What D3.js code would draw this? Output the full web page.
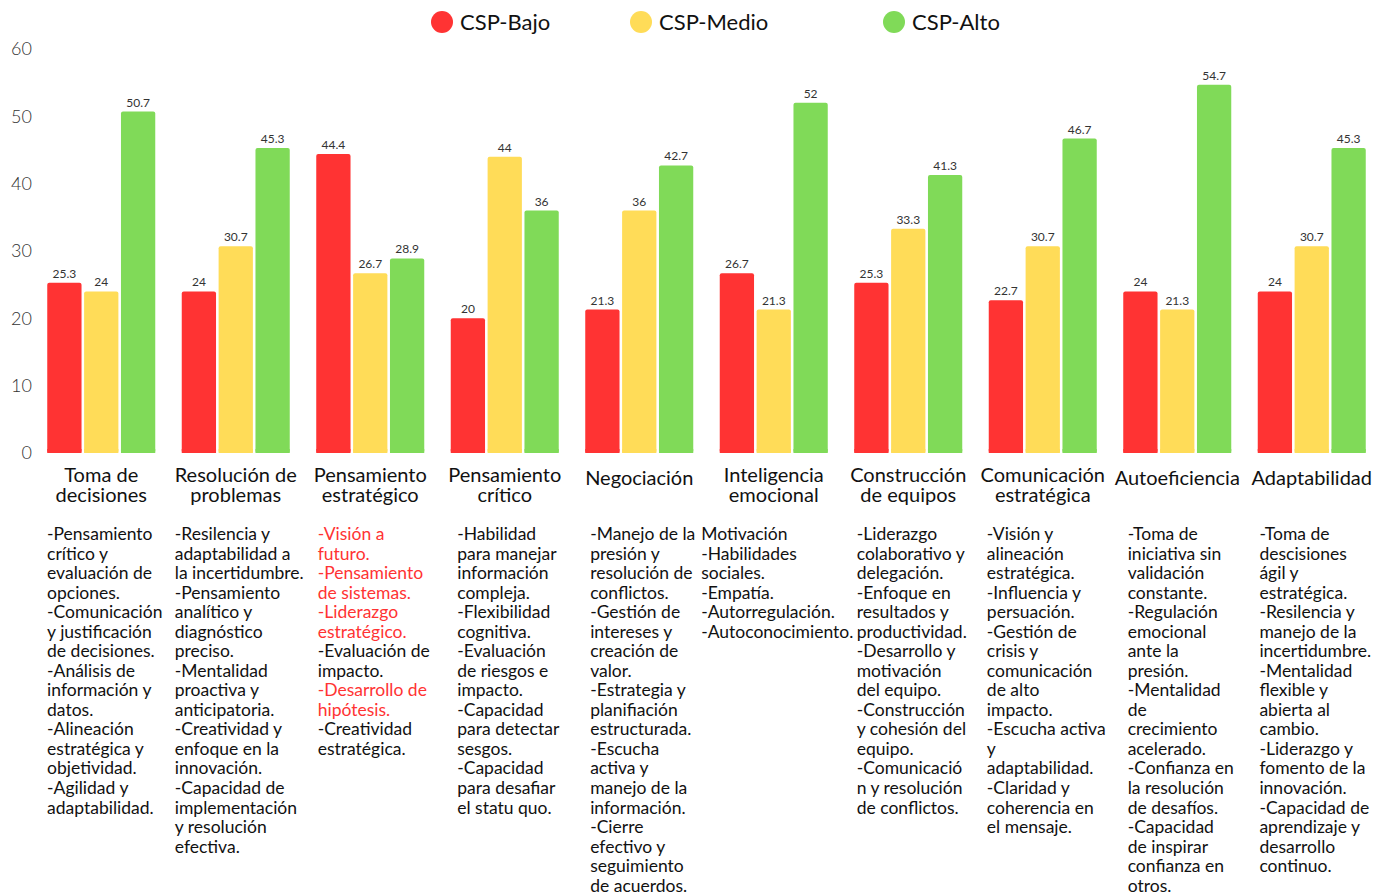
<!DOCTYPE html>
<html>
<head>
<meta charset="utf-8">
<script src="https://cdn.jsdelivr.net/npm/d3@7"></script>
<style>
  html, body { margin: 0; padding: 0; background: #fff; }
  svg { display: block; font-family: Lato, "Open Sans", sans-serif; }
</style>
</head>
<body>
<svg id="chart" width="1393" height="892"></svg>
<script>
const categories = ["Toma de decisiones", "Resolución de problemas", "Pensamiento estratégico", "Pensamiento crítico", "Negociación", "Inteligencia emocional", "Construcción de equipos", "Comunicación estratégica", "Autoeficiencia", "Adaptabilidad"];
const categoryLines = [["Toma de", "decisiones"], ["Resolución de", "problemas"], ["Pensamiento", "estratégico"], ["Pensamiento", "crítico"], ["Negociación"], ["Inteligencia", "emocional"], ["Construcción", "de equipos"], ["Comunicación", "estratégica"], ["Autoeficiencia"], ["Adaptabilidad"]];
const seriesNames = ["CSP-Bajo", "CSP-Medio", "CSP-Alto"];
const seriesColors = ["#FF3333", "#FFDC58", "#80DA58"];
const bajo  = [25.3, 24, 44.4, 20, 21.3, 26.7, 25.3, 22.7, 24, 24];
const medio = [24, 30.7, 26.7, 44, 36, 21.3, 33.3, 30.7, 21.3, 30.7];
const alto  = [50.7, 45.3, 28.9, 36, 42.7, 52, 41.3, 46.7, 54.7, 45.3];
const yTicks = [0, 10, 20, 30, 40, 50, 60];

const descriptions = [
  ["-Pensamiento", "crítico y", "evaluación de", "opciones.", "-Comunicación", "y justificación", "de decisiones.", "-Análisis de", "información y", "datos.", "-Alineación", "estratégica y", "objetividad.", "-Agilidad y", "adaptabilidad."],
  ["-Resilencia y", "adaptabilidad a", "la incertidumbre.", "-Pensamiento", "analítico y", "diagnóstico", "preciso.", "-Mentalidad", "proactiva y", "anticipatoria.", "-Creatividad y", "enfoque en la", "innovación.", "-Capacidad de", "implementación", "y resolución", "efectiva."],
  ["-Visión a", "futuro.", "-Pensamiento", "de sistemas.", "-Liderazgo", "estratégico.", "-Evaluación de", "impacto.", "-Desarrollo de", "hipótesis.", "-Creatividad", "estratégica."],
  ["-Habilidad", "para manejar", "información", "compleja.", "-Flexibilidad", "cognitiva.", "-Evaluación", "de riesgos e", "impacto.", "-Capacidad", "para detectar", "sesgos.", "-Capacidad", "para desafiar", "el statu quo."],
  ["-Manejo de la", "presión y", "resolución de", "conflictos.", "-Gestión de", "intereses y", "creación de", "valor.", "-Estrategia y", "planifiación", "estructurada.", "-Escucha", "activa y", "manejo de la", "información.", "-Cierre", "efectivo y", "seguimiento", "de acuerdos."],
  ["Motivación", "-Habilidades", "sociales.", "-Empatía.", "-Autorregulación.", "-Autoconocimiento."],
  ["-Liderazgo", "colaborativo y", "delegación.", "-Enfoque en", "resultados y", "productividad.", "-Desarrollo y", "motivación", "del equipo.", "-Construcción", "y cohesión del", "equipo.", "-Comunicació", "n y resolución", "de conflictos."],
  ["-Visión y", "alineación", "estratégica.", "-Influencia y", "persuación.", "-Gestión de", "crisis y", "comunicación", "de alto", "impacto.", "-Escucha activa", "y", "adaptabilidad.", "-Claridad y", "coherencia en", "el mensaje."],
  ["-Toma de", "iniciativa sin", "validación", "constante.", "-Regulación", "emocional", "ante la", "presión.", "-Mentalidad", "de", "crecimiento", "acelerado.", "-Confianza en", "la resolución", "de desafíos.", "-Capacidad", "de inspirar", "confianza en", "otros."],
  ["-Toma de", "descisiones", "ágil y", "estratégica.", "-Resilencia y", "manejo de la", "incertidumbre.", "-Mentalidad", "flexible y", "abierta al", "cambio.", "-Liderazgo y", "fomento de la", "innovación.", "-Capacidad de", "aprendizaje y", "desarrollo", "continuo."]
];
// indices of highlighted (red) description lines per category
const highlightedLines = [[], [], [0, 1, 2, 3, 4, 5, 8, 9], [], [], [], [], [], [], []];

const seriesValues = [bajo, medio, alto];
const data = categories.map((c, i) => ({ cat: c, values: seriesNames.map((s, j) => ({ s, v: seriesValues[j][i], color: seriesColors[j] })) }));

const svg = d3.select("#chart");

const x0 = d3.scaleBand().domain(categories).range([34, 1379]).paddingInner(0.197).paddingOuter(0.0985);
const x1 = d3.scaleBand().domain(seriesNames).range([0, x0.bandwidth()]).paddingInner(0.07);
const y = d3.scaleLinear().domain([0, 60]).range([453, 49]);

// Y axis
const yAxis = d3.axisLeft(y).tickValues(yTicks).tickSize(0).tickPadding(0);
const gy = svg.append("g").attr("transform", "translate(32,0)").call(yAxis);
gy.select(".domain").remove();
gy.selectAll("text").attr("font-size", 18).attr("font-weight", 300).attr("fill", "#333").attr("font-family", "Lato, sans-serif");

// Bars
const groups = svg.append("g").selectAll("g").data(data).join("g")
  .attr("transform", d => `translate(${x0(d.cat)},0)`);
groups.selectAll("rect.bar").data(d => d.values).join("rect").attr("class", "bar")
  .attr("x", d => x1(d.s))
  .attr("y", d => y(d.v))
  .attr("width", x1.bandwidth())
  .attr("height", d => y(0) - y(d.v))
  .attr("rx", 2)
  .attr("fill", d => d.color);
groups.selectAll("rect.bottom").data(d => d.values).join("rect").attr("class", "bottom")
  .attr("x", d => x1(d.s))
  .attr("y", d => y(0) - 4)
  .attr("width", x1.bandwidth())
  .attr("height", 4)
  .attr("fill", d => d.color);
groups.selectAll("text.val").data(d => d.values).join("text").attr("class", "val")
  .attr("x", d => x1(d.s) + x1.bandwidth() / 2)
  .attr("y", d => y(d.v) - 5)
  .attr("text-anchor", "middle")
  .attr("font-size", 12)
  .attr("fill", "#333")
  .text(d => d.v);

// Category labels
const catG = svg.append("g");
categories.forEach((c, i) => {
  const lines = categoryLines[i];
  const cx = x0(c) + x0.bandwidth() / 2;
  const t = catG.append("text").attr("text-anchor", "middle").attr("font-size", 20).attr("fill", "#111");
  const startY = lines.length === 1 ? 478 : 475;
  lines.forEach((l, k) => {
    t.append("tspan").attr("x", cx).attr("y", startY + k * 19.5).attr("dy", "0.35em").text(l);
  });
});

// Descriptions
const descG = svg.append("g");
categories.forEach((c, i) => {
  const cx = x0(c) + x0.bandwidth() / 2;
  const t = descG.append("text").attr("font-size", 17.5).attr("fill", "#111");
  descriptions[i].forEach((l, k) => {
    t.append("tspan").attr("y", 534 + k * 19.53).attr("dy", "0.35em")
      .attr("fill", highlightedLines[i].includes(k) ? "#FF3333" : "#111")
      .text(l);
  });
  let maxW = 0;
  t.selectAll("tspan").each(function () { maxW = Math.max(maxW, this.getComputedTextLength()); });
  t.selectAll("tspan").attr("x", cx + 3.5 - maxW / 2);
});

// Legend
const legendX = [442, 641, 894];
const lg = svg.append("g");
seriesNames.forEach((s, j) => {
  lg.append("circle").attr("cx", legendX[j]).attr("cy", 22).attr("r", 11).attr("fill", seriesColors[j]);
  lg.append("text").attr("x", legendX[j] + 18).attr("y", 22).attr("dy", "0.35em").attr("font-size", 22).attr("fill", "#111").text(s);
});
</script>
</body>
</html>
